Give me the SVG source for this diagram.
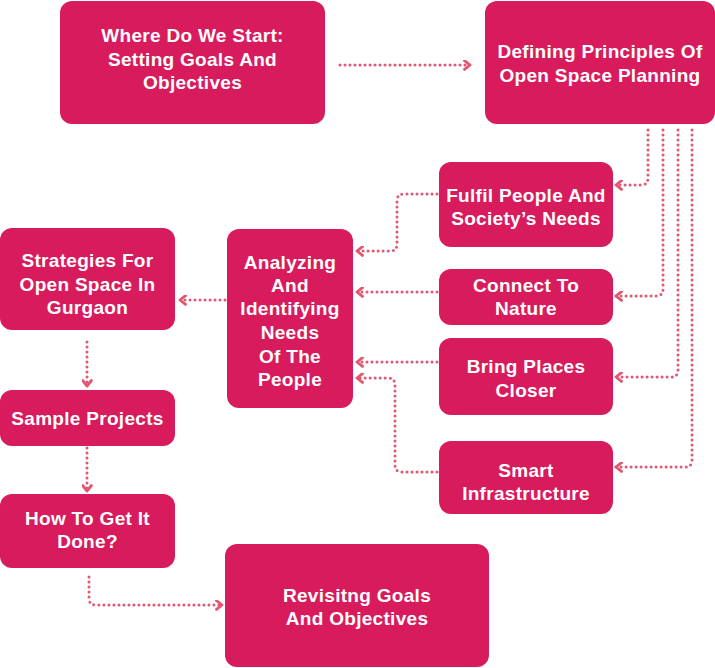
<svg xmlns="http://www.w3.org/2000/svg" width="715" height="668" viewBox="0 0 715 668">
<style>
.node rect{fill:#D81B5C;}
.node text{fill:#FFFFFF;font-family:"Liberation Sans",Arial,Helvetica,sans-serif;font-weight:bold;font-size:19px;letter-spacing:0.3px;text-anchor:middle;}
.conn path{fill:none;stroke:#E25670;stroke-width:3;stroke-linecap:round;stroke-dasharray:0 5;}
</style>
<defs>
<marker id="arr" viewBox="0 0 10 10" refX="8" refY="5" markerWidth="11" markerHeight="11" markerUnits="userSpaceOnUse" orient="auto">
<path d="M3,1 L8,5 L3,9" fill="none" stroke="#E25670" stroke-width="2.6" stroke-linecap="round" stroke-linejoin="round"/>
</marker>
</defs>
<rect width="715" height="668" fill="#FFFFFF"/>
<g class="conn">
<path d="M340,65 H470" marker-end="url(#arr)"/>
<path d="M648,130 V178 Q648,185 641,185 H616" marker-end="url(#arr)"/>
<path d="M663,130 V289 Q663,296 656,296 H616" marker-end="url(#arr)"/>
<path d="M678,130 V370 Q678,377 671,377 H616" marker-end="url(#arr)"/>
<path d="M692,130 V460 Q692,467 685,467 H616" marker-end="url(#arr)"/>
<path d="M437,194 H404 Q397,194 397,201 V244 Q397,251 390,251 H357" marker-end="url(#arr)"/>
<path d="M437,292 H357" marker-end="url(#arr)"/>
<path d="M437,362 H357" marker-end="url(#arr)"/>
<path d="M437,472 H402 Q395,472 395,465 V385 Q395,378 388,378 H357" marker-end="url(#arr)"/>
<path d="M225,300 H180" marker-end="url(#arr)"/>
<path d="M87,342 V386" marker-end="url(#arr)"/>
<path d="M87,448 V491" marker-end="url(#arr)"/>
<path d="M89,577 V598 Q89,605 96,605 H222" marker-end="url(#arr)"/>
</g>
<g id="n-start" class="node"><rect x="60" y="1" width="265" height="123" rx="12"/>
<text x="192.5" y="42">Where Do We Start:</text><text x="192.5" y="66">Setting Goals And</text><text x="192.5" y="89">Objectives</text></g>
<g id="n-principles" class="node"><rect x="485" y="1" width="230" height="123" rx="12"/>
<text x="600" y="58">Defining Principles Of</text><text x="600" y="82">Open Space Planning</text></g>
<g id="n-fulfil" class="node"><rect x="439" y="162" width="174" height="85" rx="12"/>
<text x="526" y="202">Fulfil People And</text><text x="526" y="225">Society’s Needs</text></g>
<g id="n-nature" class="node"><rect x="439" y="269" width="174" height="56" rx="12"/>
<text x="526" y="292">Connect To</text><text x="526" y="315">Nature</text></g>
<g id="n-closer" class="node"><rect x="439" y="338" width="174" height="77" rx="12"/>
<text x="526" y="373">Bring Places</text><text x="526" y="397">Closer</text></g>
<g id="n-smart" class="node"><rect x="439" y="441" width="174" height="73" rx="12"/>
<text x="526" y="477">Smart</text><text x="526" y="500">Infrastructure</text></g>
<g id="n-analyzing" class="node"><rect x="227" y="229" width="126" height="179" rx="12"/>
<text x="290" y="269">Analyzing</text><text x="290" y="292">And</text><text x="290" y="315">Identifying</text><text x="290" y="339">Needs</text><text x="290" y="363">Of The</text><text x="290" y="386">People</text></g>
<g id="n-strategies" class="node"><rect x="0" y="228" width="175" height="102" rx="12"/>
<text x="87.5" y="267">Strategies For</text><text x="87.5" y="291">Open Space In</text><text x="87.5" y="314">Gurgaon</text></g>
<g id="n-sample" class="node"><rect x="0" y="390" width="175" height="56" rx="12"/>
<text x="87.5" y="425">Sample Projects</text></g>
<g id="n-how" class="node"><rect x="0" y="494" width="175" height="74" rx="12"/>
<text x="87.5" y="525">How To Get It</text><text x="87.5" y="548">Done?</text></g>
<g id="n-revisit" class="node"><rect x="225" y="544" width="264" height="123" rx="12"/>
<text x="357" y="602">Revisitng Goals</text><text x="357" y="625">And Objectives</text></g>
</svg>
